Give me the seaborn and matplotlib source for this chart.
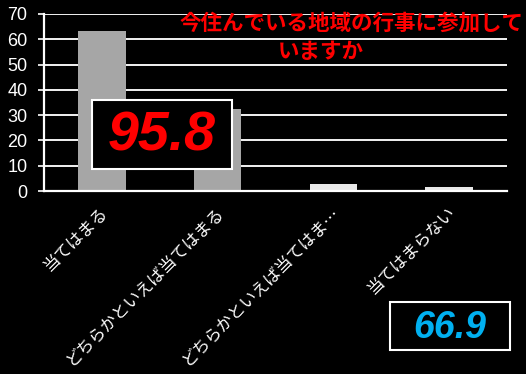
import matplotlib
matplotlib.use("Agg")
import matplotlib.pyplot as plt
import matplotlib.transforms as mtransforms
from matplotlib.patches import Rectangle
import seaborn as sns
import pandas as pd

# Survey answers and their shares (%)
categories = ["当てはまる", "どちらかといえば当てはまる", "どちらかといえば当てはま…", "当てはまらない"]
values = [63.3, 32.5, 2.8, 1.4]
bar_colors = ["#a6a6a6", "#a6a6a6", "#e8e8e8", "#e8e8e8"]
yticks = [0, 10, 20, 30, 40, 50, 60, 70]

title_line1 = "今住んでいる地域の行事に参加して"
title_line2 = "いますか"
positive_total = "95.8"
other_total = "66.9"

sns.set_theme(style="white")
plt.rcParams["font.family"] = ["Liberation Sans", "Noto Sans CJK JP", "DejaVu Sans"]

W, H = 526, 374
fig = plt.figure(figsize=(W / 100, H / 100), dpi=100, facecolor="black")

def fx(px):
    return px / W

def fy(py):
    return 1 - py / H

ax = fig.add_axes([fx(44), fy(191), fx(507) - fx(44), fy(14) - fy(191)])
ax.set_facecolor("black")

df = pd.DataFrame({"answer": categories, "pct": values})
sns.barplot(data=df, x="answer", y="pct", hue="answer", palette=bar_colors,
            legend=False, width=0.41, ax=ax, saturation=1, zorder=3,
            linewidth=0, edgecolor="none")

ax.set_ylim(0, 70)
ax.set_xlim(-0.5, len(categories) - 0.5)
ax.set_yticks(yticks)
ax.set_yticklabels([str(v) for v in yticks], color="white", fontsize=13,
                   family="Liberation Sans")
ax.yaxis.grid(True, color="#f2f2f2", linewidth=1.4, zorder=0)
ax.set_axisbelow(True)
ax.set_xlabel("")
ax.set_ylabel("")

for side in ["top", "right"]:
    ax.spines[side].set_visible(False)
for side in ["left", "bottom"]:
    ax.spines[side].set_color("white")
    ax.spines[side].set_linewidth(1.6)
    ax.spines[side].set_zorder(4)

# category ticks sit between bars, labels sit under bar centres
ax.set_xticks([i - 0.5 for i in range(len(categories) + 1)], minor=True)
ax.set_xticks(range(len(categories)))
ax.set_xticklabels(categories, rotation=45, ha="right", va="center",
                   rotation_mode="anchor", color="white", fontsize=12,
                   family=["Noto Sans CJK JP", "DejaVu Sans"])
ax.tick_params(axis="x", which="major", length=0, pad=10)
ax.tick_params(axis="x", which="minor", length=4, width=1.2, color="white", direction="out")
ax.tick_params(axis="y", length=4, width=1.2, color="white", direction="out", left=True, pad=8)

shift = mtransforms.ScaledTranslation(3 / 100, -5 / 100, fig.dpi_scale_trans)
for lbl in ax.get_xticklabels():
    lbl.set_transform(lbl.get_transform() + shift)

# question text
fig.text(fx(180), fy(23), title_line1, color="#ff0000", fontsize=15.5, fontweight="bold",
         ha="left", va="center", family=["Noto Sans CJK JP", "DejaVu Sans"])
fig.text(fx(278), fy(52), title_line2, color="#ff0000", fontsize=15.5, fontweight="bold",
         ha="left", va="center", family=["Noto Sans CJK JP", "DejaVu Sans"])

# highlighted totals
def total_box(x0, y0, x1, y1, text, color, size):
    fig.add_artist(Rectangle((fx(x0), fy(y1)), fx(x1) - fx(x0), fy(y0) - fy(y1),
                             transform=fig.transFigure, facecolor="black",
                             edgecolor="white", linewidth=1.5, zorder=5))
    fig.text(fx((x0 + x1) / 2), fy((y0 + y1) / 2 + 2), text, color=color,
             fontsize=size, fontweight="bold", fontstyle="italic",
             family="Liberation Sans", ha="center", va="center", zorder=6)

total_box(92, 100, 232, 169, positive_total, "#ff0000", 40)
total_box(390, 302, 510, 350, other_total, "#00b0f0", 27)

fig.savefig("out.png", dpi=100, facecolor="black")
